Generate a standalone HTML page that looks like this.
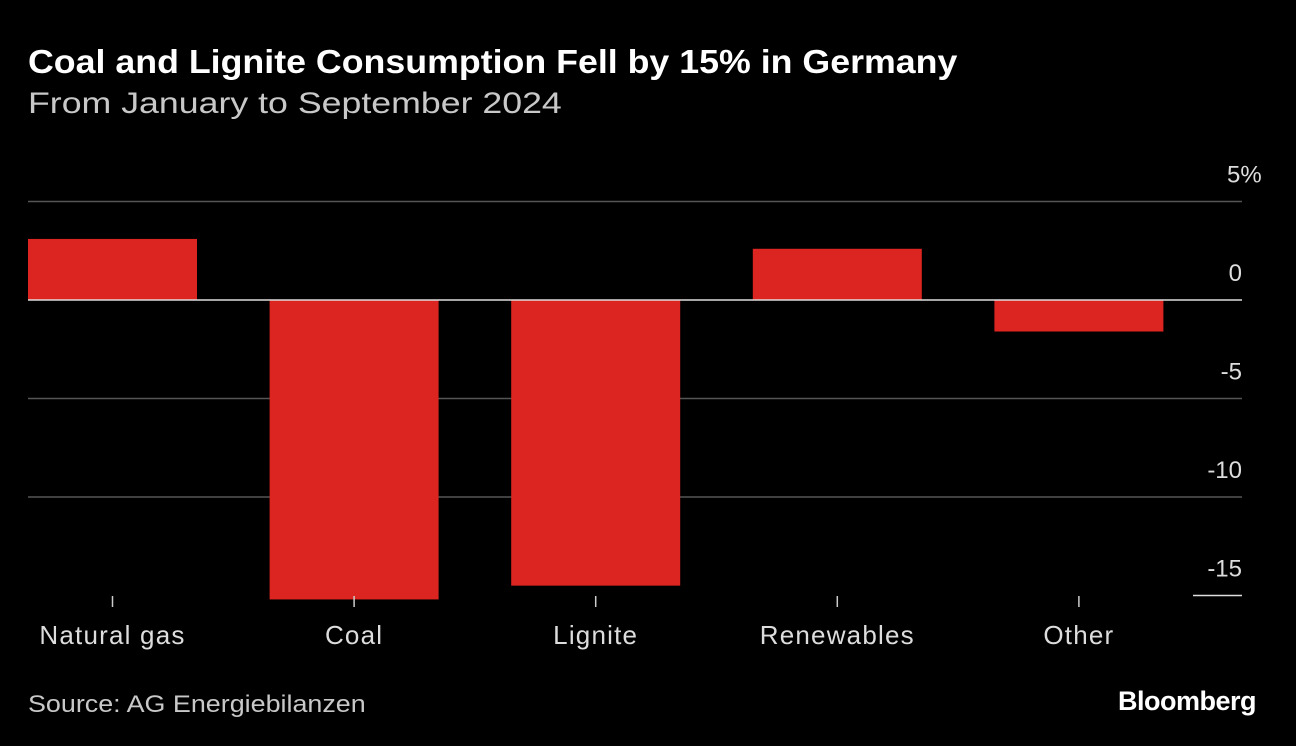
<!DOCTYPE html>
<html><head><meta charset="utf-8"><style>
body{margin:0;background:#000;width:1296px;height:746px;overflow:hidden;font-family:"Liberation Sans",sans-serif;color:#fff}
.t{position:absolute;left:28px;top:43px;font-size:33px;font-weight:bold;transform:scaleX(1.083);transform-origin:0 0;white-space:nowrap}
.s{position:absolute;left:28px;top:87px;font-size:30px;color:#c8c8c8;transform:scaleX(1.19);transform-origin:0 0;white-space:nowrap}
.src{position:absolute;left:28px;top:691px;font-size:24px;color:#c8c8c8;transform:scaleX(1.12);transform-origin:0 0;white-space:nowrap}
.bb{position:absolute;right:40px;top:686px;font-size:27px;font-weight:bold;letter-spacing:-0.5px}
</style></head><body>
<div class="t">Coal and Lignite Consumption Fell by 15% in Germany</div>
<div class="s">From January to September 2024</div>
<svg id="c" width="1296" height="746" style="position:absolute;left:0;top:0"></svg>
<div class="src">Source: AG Energiebilanzen</div>
<div class="bb">Bloomberg</div>
<script>
const categories=["Natural gas","Coal","Lignite","Renewables","Other"];
const values=[3.1,-15.2,-14.5,2.6,-1.6];
const ticks=[5,0,-5,-10,-15];
const tickLabels=["5%","0","-5","-10","-15"];
const svg=document.getElementById('c');const NS='http://www.w3.org/2000/svg';
function y(v){return 300-v*19.7;}
function x(i){return 28+i*241.6;}
const bw=169;
function mk(t,a){const e=document.createElementNS(NS,t);for(const k in a)e.setAttribute(k,a[k]);svg.appendChild(e);return e;}
ticks.forEach((t,i)=>{
 if(t!==0&&t!==-15){const l=mk('line',{x1:28,x2:1242,y1:y(t),y2:y(t),stroke:'#555','stroke-width':1.5});
 
 }
 if(t===-15){const l=mk('line',{x1:1193,x2:1242,y1:y(t),y2:y(t),stroke:'#ddd','stroke-width':1.5});
 
 }
 const tx=mk('text',{x:1242,y:y(t)-19,'text-anchor':'end',fill:'#ddd','font-size':24});
 tx.textContent=tickLabels[i];
 if(t===5){tx.setAttribute('text-anchor','start');tx.setAttribute('x',1227);}
 
 
});
values.forEach((v,i)=>{
 const r=mk('rect',{x:x(i),y:Math.min(y(v),y(0)),width:bw,height:Math.abs(y(v)-y(0)),fill:'#dc2520'});
 
 
 const cx=x(i)+bw/2;
 const tk=mk('line',{x1:cx,x2:cx,y1:596,y2:607,stroke:'#ccc','stroke-width':1.5});
 
 
 const lb=mk('text',{x:cx,y:644,'text-anchor':'middle',fill:'#ddd','font-size':26,'letter-spacing':1.2});
 lb.textContent=categories[i];
 
 
});
const z=mk('line',{x1:28,x2:1242,y1:y(0),y2:y(0),stroke:'#ddd','stroke-width':1.5});


</script>
</body></html>
